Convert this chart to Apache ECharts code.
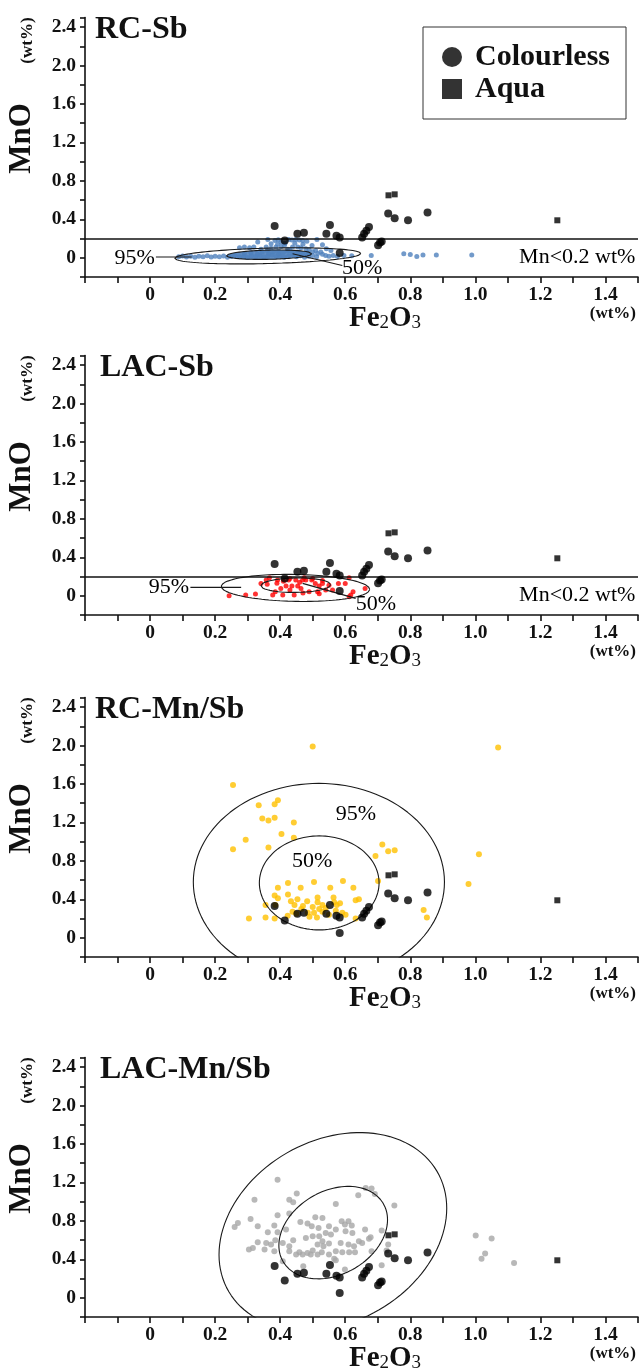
<!DOCTYPE html>
<html>
<head>
<meta charset="utf-8">
<script src="https://cdn.jsdelivr.net/npm/echarts@6/dist/echarts.min.js"></script>
<style>
  html, body { margin: 0; padding: 0; background: #ffffff; }
  #chart { width: 641px; height: 1372px; }
</style>
</head>
<body>
<div id="chart"></div>
<script>
// Fe2O3 vs MnO (wt%) of colourless and aqua glass compared with four reference groups

const panelNames = ['RC-Sb', 'LAC-Sb', 'RC-Mn/Sb', 'LAC-Mn/Sb'];
const groupColors = ['#4f81bd', '#ff0000', '#ffc000', '#a6a6a6'];
const mnLimit = 0.2;
const mnLimitLabel = 'Mn<0.2 wt%';

// [Fe2O3, MnO]
const colourless = [
  [0.383, 0.33], [0.414, 0.18], [0.453, 0.25], [0.473, 0.26], [0.542, 0.25],
  [0.553, 0.34], [0.573, 0.23], [0.583, 0.21], [0.583, 0.05], [0.652, 0.21],
  [0.658, 0.25], [0.665, 0.28], [0.673, 0.32], [0.701, 0.13], [0.707, 0.16],
  [0.712, 0.17], [0.732, 0.46], [0.752, 0.41], [0.793, 0.39], [0.853, 0.47]
];
const aqua = [[0.733, 0.65], [0.752, 0.66], [1.252, 0.39]];

const rcSb = [
  [0.088, 0.010], [0.100, 0.018], [0.112, 0.008], [0.125, 0.015], [0.138, 0.006],
  [0.150, 0.016], [0.163, 0.010], [0.176, 0.020], [0.188, 0.008], [0.200, 0.015],
  [0.213, 0.010], [0.226, 0.018], [0.238, 0.006], [0.250, 0.014], [0.262, 0.022],
  [0.275, 0.010], [0.288, 0.016], [0.300, 0.004], [0.312, 0.020], [0.325, 0.012],
  [0.338, 0.025], [0.350, 0.008], [0.362, 0.018], [0.375, 0.030], [0.388, 0.012],
  [0.400, 0.022], [0.412, 0.005], [0.425, 0.016], [0.438, 0.028], [0.450, 0.010],
  [0.462, 0.020], [0.475, 0.006], [0.488, 0.015], [0.500, 0.024], [0.512, 0.010],
  [0.290, 0.045], [0.310, 0.052], [0.330, 0.040], [0.345, 0.060], [0.365, 0.048],
  [0.380, 0.062], [0.395, 0.042], [0.410, 0.055], [0.425, 0.068], [0.440, 0.045],
  [0.455, 0.058], [0.470, 0.040], [0.485, 0.052], [0.500, 0.064], [0.515, 0.044],
  [0.530, 0.036], [0.275, 0.104], [0.290, 0.111], [0.306, 0.104], [0.319, 0.111],
  [0.341, 0.090], [0.357, 0.111], [0.372, 0.100], [0.387, 0.111], [0.403, 0.118],
  [0.413, 0.128], [0.423, 0.090], [0.438, 0.111], [0.454, 0.111], [0.464, 0.104],
  [0.479, 0.094], [0.489, 0.083], [0.509, 0.076], [0.525, 0.059], [0.540, 0.024],
  [0.550, 0.017], [0.563, 0.024], [0.576, 0.014], [0.596, 0.024], [0.620, 0.021],
  [0.331, 0.163], [0.362, 0.190], [0.384, 0.180], [0.394, 0.188], [0.403, 0.163],
  [0.426, 0.190], [0.436, 0.185], [0.448, 0.190], [0.459, 0.185], [0.469, 0.180],
  [0.482, 0.173], [0.498, 0.128], [0.513, 0.190], [0.530, 0.135], [0.542, 0.094],
  [0.556, 0.076], [0.372, 0.145], [0.392, 0.140], [0.415, 0.150], [0.445, 0.150],
  [0.470, 0.140], [0.395, 0.070], [0.360, 0.075], [0.430, 0.080],
  [0.680, 0.024], [0.780, 0.042], [0.800, 0.035], [0.820, 0.014], [0.839, 0.028],
  [0.880, 0.028], [0.989, 0.028]
];

const lacSb = [
  [0.243, 0.000], [0.294, 0.007], [0.324, 0.018], [0.341, 0.129], [0.357, 0.163],
  [0.367, 0.187], [0.377, 0.007], [0.385, 0.042], [0.392, 0.163], [0.402, 0.077],
  [0.408, 0.007], [0.418, 0.101], [0.426, 0.163], [0.436, 0.101], [0.443, 0.007],
  [0.448, 0.163], [0.454, 0.101], [0.464, 0.077], [0.469, 0.163], [0.474, 0.187],
  [0.479, 0.163], [0.489, 0.042], [0.497, 0.163], [0.508, 0.129], [0.515, 0.042],
  [0.520, 0.101], [0.530, 0.129], [0.540, 0.060], [0.561, 0.060], [0.579, 0.129],
  [0.600, 0.129], [0.612, -0.010], [0.617, 0.007], [0.624, 0.042], [0.612, 0.187],
  [0.661, 0.077], [0.390, 0.130], [0.410, 0.150], [0.430, 0.060], [0.460, 0.140],
  [0.500, 0.180], [0.530, 0.160], [0.550, 0.110], [0.470, 0.030], [0.520, 0.020],
  [0.430, 0.180], [0.360, 0.120]
];

const rcMnSb = [
  [0.255, 1.59], [0.334, 1.38], [0.383, 1.39], [0.393, 1.43], [0.345, 1.24],
  [0.364, 1.22], [0.383, 1.25], [0.442, 1.20], [0.404, 1.08], [0.294, 1.02],
  [0.255, 0.92], [0.364, 0.94], [0.442, 1.04], [0.714, 0.97], [0.732, 0.90],
  [0.752, 0.91], [0.693, 0.85], [0.701, 0.59], [1.011, 0.87], [0.979, 0.56],
  [0.500, 1.99], [1.070, 1.98], [0.393, 0.52], [0.424, 0.57], [0.463, 0.52],
  [0.504, 0.58], [0.554, 0.52], [0.593, 0.59], [0.625, 0.52], [0.642, 0.40],
  [0.632, 0.39], [0.383, 0.44], [0.393, 0.41], [0.424, 0.45], [0.453, 0.40],
  [0.433, 0.38], [0.444, 0.34], [0.355, 0.34], [0.385, 0.34], [0.483, 0.38],
  [0.465, 0.30], [0.504, 0.26], [0.515, 0.42], [0.515, 0.37], [0.530, 0.34],
  [0.520, 0.30], [0.513, 0.21], [0.485, 0.26], [0.423, 0.23], [0.438, 0.27],
  [0.564, 0.42], [0.566, 0.37], [0.574, 0.34], [0.584, 0.36], [0.571, 0.28],
  [0.591, 0.26], [0.304, 0.20], [0.355, 0.21], [0.383, 0.20], [0.632, 0.20],
  [0.841, 0.29], [0.851, 0.21], [0.601, 0.24], [0.470, 0.33], [0.500, 0.32],
  [0.540, 0.31], [0.450, 0.25], [0.550, 0.24], [0.490, 0.22], [0.530, 0.27]
];

const lacMnSb = [
  [0.392, 1.229], [0.321, 1.021], [0.451, 1.084], [0.428, 1.021], [0.440, 0.994],
  [0.640, 1.066], [0.571, 0.976], [0.663, 1.143], [0.681, 1.136], [0.691, 1.080],
  [0.751, 0.959], [0.309, 0.820], [0.392, 0.859], [0.428, 0.876], [0.462, 0.789],
  [0.270, 0.779], [0.260, 0.737], [0.331, 0.744], [0.382, 0.751], [0.362, 0.682],
  [0.392, 0.682], [0.418, 0.710], [0.484, 0.772], [0.497, 0.744], [0.508, 0.838],
  [0.530, 0.831], [0.518, 0.727], [0.550, 0.744], [0.540, 0.675], [0.571, 0.710],
  [0.589, 0.796], [0.599, 0.762], [0.610, 0.796], [0.620, 0.751], [0.601, 0.692],
  [0.622, 0.675], [0.661, 0.710], [0.678, 0.630], [0.712, 0.699], [0.331, 0.578],
  [0.357, 0.571], [0.372, 0.554], [0.385, 0.599], [0.408, 0.571], [0.440, 0.599],
  [0.428, 0.537], [0.479, 0.623], [0.500, 0.640], [0.520, 0.640], [0.530, 0.588],
  [0.550, 0.564], [0.556, 0.658], [0.586, 0.571], [0.610, 0.554], [0.627, 0.537],
  [0.642, 0.588], [0.652, 0.571], [0.673, 0.613], [0.304, 0.502], [0.316, 0.519],
  [0.352, 0.502], [0.382, 0.485], [0.428, 0.485], [0.459, 0.474], [0.469, 0.450],
  [0.484, 0.467], [0.500, 0.491], [0.515, 0.450], [0.528, 0.474], [0.550, 0.450],
  [0.571, 0.485], [0.591, 0.474], [0.612, 0.474], [0.630, 0.474], [0.681, 0.485],
  [0.732, 0.554], [0.727, 0.491], [0.408, 0.381], [0.471, 0.329], [0.571, 0.391],
  [0.599, 0.294], [0.566, 0.405], [0.712, 0.339], [1.001, 0.647], [1.050, 0.616],
  [1.030, 0.460], [1.019, 0.405], [1.119, 0.363], [0.515, 0.554], [0.449, 0.450],
  [0.494, 0.450], [0.533, 0.537]
];
const groups = [rcSb, lacSb, rcMnSb, lacMnSb];

// confidence ellipses: [cx, cy, ax, ay, bx, by]  (centre + two conjugate semi-axis vectors)
const ellipse95 = [
  [0.362, 0.020, 0.286, 0.025, 0.000, 0.080],
  [0.447, 0.082, 0.228, -0.015, 0.000, 0.140],
  [0.519, 0.580, 0.386, 0.000, 0.000, 1.026],
  [0.562, 0.690, 0.350, 0.242, 0.000, 1.000]
];
const ellipse50 = [
  [0.366, 0.032, 0.131, 0.010, 0.000, 0.048],
  [0.448, 0.110, 0.107, 0.005, 0.000, 0.075],
  [0.520, 0.571, 0.184, 0.000, 0.000, 0.489],
  [0.563, 0.678, 0.167, 0.134, 0.000, 0.462]
];

// leader lines from the percentage labels to the ellipses
const leaders = [
  [[[0.018, 0.008], [0.128, 0.008]], [[0.438, 0.042], [0.591, -0.080]]],
  [[[0.124, 0.087], [0.280, 0.087]], [[0.469, 0.129], [0.632, -0.027]]],
  [],
  []
];
// percentage labels: [panel, text, x, y, align]
const pctLabels = [
  [0, '95%', 0.015, 0.000, 'right'], [0, '50%', 0.590, -0.105, 'left'],
  [1, '95%', 0.120, 0.087, 'right'], [1, '50%', 0.632, -0.086, 'left'],
  [2, '95%', 0.633, 1.285, 'center'], [2, '50%', 0.498, 0.798, 'center']
];

const FONT = '"Liberation Serif", "Times New Roman", serif';
const gridTops = [17.5, 355.5, 697.5, 1057.5];
const gridH = 259.5;

function ellipsePath(e) {
  const pts = [];
  for (let k = 0; k <= 120; k++) {
    const t = k / 120 * 2 * Math.PI;
    pts.push([e[0] + e[2] * Math.cos(t) + e[4] * Math.sin(t),
              e[1] + e[3] * Math.cos(t) + e[5] * Math.sin(t)]);
  }
  return pts;
}

function xLabel(v) {
  const n = Math.round(v * 10);
  if (n < 0 || n % 2 !== 0 || n > 14) return '';
  return n === 0 ? '0' : (n / 10).toFixed(1);
}
function yLabel(v) {
  const n = Math.round(v * 10);
  if (n < 0 || n % 4 !== 0 || n > 24) return '';
  return n === 0 ? '0' : (n / 10).toFixed(1);
}

const grids = [], xAxes = [], yAxes = [], series = [];
const axisLineStyle = { color: '#111', width: 1.6 };
const tickFont = { fontFamily: FONT, fontWeight: 'bold', fontSize: 19.5, color: '#111' };

for (let p = 0; p < 4; p++) {
  grids.push({ left: 85, right: 0, top: gridTops[p], height: gridH, containLabel: false });
  xAxes.push({
    type: 'value', gridIndex: p, min: -0.2, max: 1.5, interval: 0.1,
    axisLine: { onZero: false, lineStyle: axisLineStyle },
    axisTick: { show: true, length: 6, inside: false, lineStyle: axisLineStyle },
    axisLabel: Object.assign({ formatter: xLabel, margin: 8, showMinLabel: true, showMaxLabel: true }, tickFont),
    splitLine: { show: false }
  });
  yAxes.push({
    type: 'value', gridIndex: p, min: -0.2, max: 2.5, interval: 0.2,
    axisLine: { onZero: false, lineStyle: axisLineStyle },
    axisTick: { show: true, length: 5, inside: false, lineStyle: axisLineStyle },
    axisLabel: Object.assign({ formatter: yLabel, margin: 9 }, tickFont),
    splitLine: { show: false }
  });

  // filled 50% ellipse of the RC-Sb group
  if (p === 0) {
    series.push({
      type: 'custom', name: 'fill50', xAxisIndex: p, yAxisIndex: p, silent: true, z: 1,
      data: [[ellipse50[0][0], ellipse50[0][1]]],
      renderItem: function (params, api) {
        return {
          type: 'polygon',
          shape: { points: ellipsePath(ellipse50[0]).map(function (pt) { return api.coord(pt); }) },
          style: { fill: groupColors[0], opacity: 0.9 }
        };
      }
    });
  }

  const groupSeries = {
    type: 'scatter', name: panelNames[p], xAxisIndex: p, yAxisIndex: p, z: 2,
    data: groups[p], symbol: 'circle', symbolSize: p < 2 ? 5 : 6,
    itemStyle: { color: groupColors[p] }, silent: true
  };
  if (p < 2) {
    groupSeries.markLine = {
      silent: true, symbol: 'none', label: { show: false },
      lineStyle: { color: '#111', width: 1.6, type: 'solid' },
      data: [{ yAxis: mnLimit }]
    };
  }
  series.push(groupSeries);

  [ellipse95[p], ellipse50[p]].forEach(function (e, i) {
    series.push({
      type: 'line', name: 'ellipse' + p + '_' + i, xAxisIndex: p, yAxisIndex: p, z: 3,
      data: ellipsePath(e), showSymbol: false, smooth: false, clip: true, silent: true,
      lineStyle: { color: '#1a1a1a', width: 1.1 }
    });
  });

  leaders[p].forEach(function (seg, i) {
    series.push({
      type: 'line', name: 'leader' + p + '_' + i, xAxisIndex: p, yAxisIndex: p, z: 3,
      data: seg, showSymbol: false, silent: true,
      lineStyle: { color: '#1a1a1a', width: 1.1 }
    });
  });

  series.push({
    type: 'scatter', name: 'Colourless', xAxisIndex: p, yAxisIndex: p, z: 5,
    data: colourless, symbol: 'circle', symbolSize: 8, itemStyle: { color: '#000' }, silent: true
  });
  series.push({
    type: 'scatter', name: 'Aqua', xAxisIndex: p, yAxisIndex: p, z: 5,
    data: aqua, symbol: 'rect', symbolSize: 6, itemStyle: { color: '#000' }, silent: true
  });
}

const chart = echarts.init(document.getElementById('chart'), null, { renderer: 'canvas' });
chart.setOption({
  animation: false,
  backgroundColor: '#ffffff',
  grid: grids,
  xAxis: xAxes,
  yAxis: yAxes,
  legend: {
    data: [{ name: 'Colourless', icon: 'circle' }, { name: 'Aqua', icon: 'rect' }],
    orient: 'vertical', left: 423, top: 27,
    itemWidth: 20, itemHeight: 20, itemGap: 2,
    padding: [15, 16, 15, 19],
    borderColor: '#333', borderWidth: 1,
    selectedMode: false,
    textStyle: { fontFamily: FONT, fontWeight: 'bold', fontSize: 30, color: '#111', lineHeight: 29, padding: [0, 0, 0, 8] }
  },
  series: series
});

// texts placed from the grid layout and the axes
const graphics = [];
for (let p = 0; p < 4; p++) {
  const top = gridTops[p];
  const axisY = top + gridH;
  graphics.push({
    type: 'text', x: p % 2 === 0 ? 95 : 100, y: top + 12.5,
    style: { text: panelNames[p], font: 'bold 32px ' + FONT, fill: '#111', align: 'left', verticalAlign: 'middle' }
  });
  graphics.push({
    type: 'text', x: 22, y: top + 121, rotation: Math.PI / 2,
    style: { text: 'MnO', font: 'bold 31px ' + FONT, fill: '#111', align: 'center', verticalAlign: 'middle' }
  });
  graphics.push({
    type: 'text', x: 28, y: top + 23, rotation: Math.PI / 2,
    style: { text: '(wt%)', font: 'bold 17px ' + FONT, fill: '#111', align: 'center', verticalAlign: 'middle' }
  });
  graphics.push({
    type: 'text', x: 636, y: axisY + 37,
    style: { text: '(wt%)', font: 'bold 17px ' + FONT, fill: '#111', align: 'right', verticalAlign: 'middle' }
  });
  graphics.push({
    type: 'text', x: 385, y: axisY + 42,
    style: {
      text: '{a|Fe}{s|2}{a|O}{s|3}', align: 'center', verticalAlign: 'middle',
      rich: {
        a: { fontFamily: FONT, fontWeight: 'bold', fontSize: 29, fill: '#111', color: '#111' },
        s: { fontFamily: FONT, fontWeight: 'normal', fontSize: 19, fill: '#111', color: '#111', padding: [8, 0, 0, 0] }
      }
    }
  });
  if (p < 2) {
    const pos = chart.convertToPixel({ gridIndex: p }, [1.492, 0.003]);
    graphics.push({
      type: 'text', x: pos[0], y: pos[1],
      style: { text: mnLimitLabel, font: '22px ' + FONT, fill: '#000', align: 'right', verticalAlign: 'middle' }
    });
  }
}
pctLabels.forEach(function (l) {
  const pos = chart.convertToPixel({ gridIndex: l[0] }, [l[2], l[3]]);
  graphics.push({
    type: 'text', x: pos[0], y: pos[1], z: 10,
    style: { text: l[1], font: '22px ' + FONT, fill: '#000', align: l[4], verticalAlign: 'middle' }
  });
});
chart.setOption({ graphic: graphics });
</script>
</body>
</html>
